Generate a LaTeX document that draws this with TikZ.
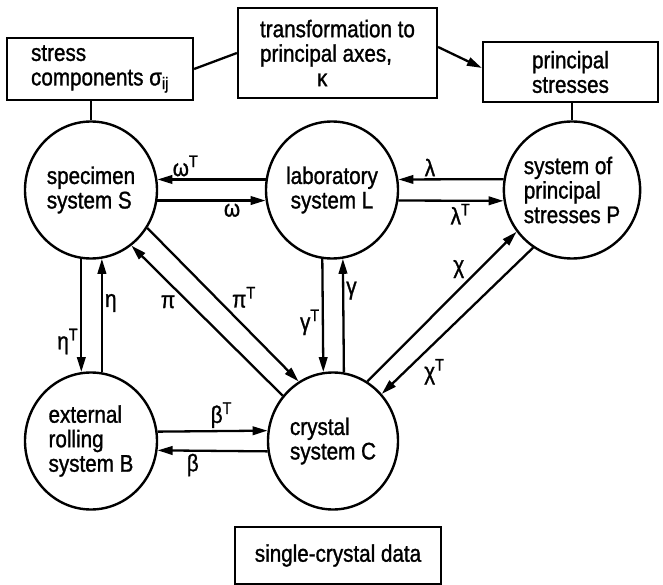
\documentclass[tikz,border=0pt]{standalone}
\usepackage{fontspec}
\setmainfont{Liberation Sans}[FakeStretch=0.86,FakeBold=1.2]
\usetikzlibrary{shapes.geometric,arrows.meta,calc}
\tikzset{
  sys/.style={ellipse,draw,line width=2.4pt,inner sep=0pt,
    minimum width=132pt,minimum height=137pt,align=left,
    font=\fontsize{24}{24.5}\selectfont},
  infobox/.style={rectangle,draw,line width=2.2pt,inner sep=0pt,
    align=left,font=\fontsize{24}{24.5}\selectfont},
  arr/.style={-{Triangle[length=15pt,width=8.5pt]},line width=2.3pt},
  lnk/.style={line width=2.3pt},
  lbl/.style={font=\fontsize{24}{24.5}\selectfont,inner sep=2pt},
}

\begin{document}
\begin{tikzpicture}[x=1pt,y=-1pt]
  \useasboundingbox (0,0) rectangle (663,585);
  % boxes
  \node (stress) [infobox,minimum width=186pt,minimum height=62pt]
    at (100,69) {stress\\components σ\textsubscript{ij}};
  \node (trans)  [infobox,minimum width=199pt,minimum height=90pt]
    at (337.5,53) {transformation to\\principal axes,\\\hspace*{57pt}κ};
  \node (princ)  [infobox,minimum width=175pt,minimum height=60pt]
    at (570.5,72) {principal\\stresses};
  \node (single) [infobox,minimum width=206pt,minimum height=57pt]
    at (338,555.5) {single-crystal data};
  % coordinate systems
  \node (S) [sys] at (91,190) {specimen\\system S};
  \node (L) [sys,align=center] at (332,190) {laboratory\\system L};
  \node (P) [sys,minimum width=130pt] at (572,190)
    {system of\\principal\\stresses P};
  \node (B) [sys] at (91,441) {external\\rolling\\system B};
  \node (C) [sys,minimum width=130pt] at (333,441) {crystal\\system C};

  \draw[lnk] (stress.east) -- (trans.west);
  \draw[arr] ([yshift=6pt]trans.east) -- ([yshift=4pt]princ.west);
  \draw[lnk] (S.north |- stress.south) -- (S.north);
  \draw[lnk] (P.north |- princ.south) -- (P.north);

  \draw[arr] (L.171) -- node (omT) [lbl,pos=0.74,above] {ω\textsuperscript{T}} (S.9);
  \draw[arr] (S.-9) -- node (om) [lbl,pos=0.69,below] {ω} (L.-171);
  \draw[arr] (P.171) -- node (la) [lbl,pos=0.70,above] {λ} (L.9);
  \draw[arr] (L.-9) -- node (laT) [lbl,pos=0.59,below] {λ\textsuperscript{T}} (P.-171);
  \draw[arr] (S.-98.5) -- node (etT) [lbl,pos=0.73,left] {η\textsuperscript{T}} (B.98.5);
  \draw[arr] (B.81.5) -- node (et) [lbl,pos=0.61,right] {η} (S.-81.5);
  \draw[arr] (L.-98.5) -- node (gaT) [lbl,pos=0.56,left] {γ\textsuperscript{T}} (C.98.5);
  \draw[arr] (C.81.5) -- node (ga) [lbl,pos=0.72,right] {γ} (L.-81.5);
  \draw[arr] (S.-34) -- node (piT) [lbl,pos=0.54,above right] {π\textsuperscript{T}} (C.120);
  \draw[arr] (C.138) -- node (pi) [lbl,pos=0.69,below left] {π} (S.-54);
  \draw[arr] (C.60) -- node (ch) [lbl,pos=0.67,above left] {χ} (P.-143.5);
  \draw[arr] (P.-124) -- node (chT) [lbl,pos=0.74,below right] {χ\textsuperscript{T}} (C.44);
  \draw[arr] (B.8.5) -- node (beT) [lbl,pos=0.58,above] {β\textsuperscript{T}} (C.171.5);
  \draw[arr] (C.-171.5) -- node (be) [lbl,pos=0.68,below] {β} (B.-8.5);
\end{tikzpicture}
\end{document}
